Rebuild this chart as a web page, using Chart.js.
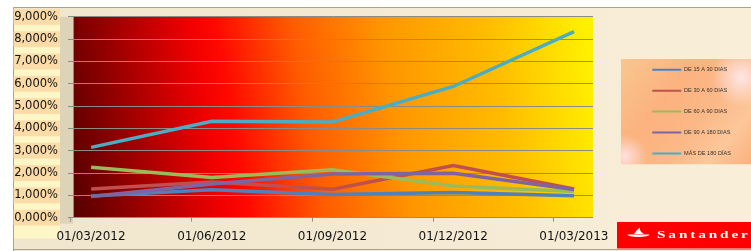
<!DOCTYPE html>
<html>
<head>
<meta charset="utf-8">
<script src="https://cdn.jsdelivr.net/npm/chart.js@4/dist/chart.umd.min.js"></script>
<style>
  html, body { margin: 0; padding: 0; background: #fff; }
  #wrap { width: 751px; height: 251px; }
</style>
</head>
<body>
<div id="wrap"><canvas id="mora" width="751" height="251"></canvas></div>
<script>
// fechas de corte (dd/mm/aaaa), también son las etiquetas del eje X
const fechas = ['01/03/2012', '01/06/2012', '01/09/2012', '01/12/2012', '01/03/2013'];

// tramos de mora, en %
const nombres = ['DE 15 A 30 DIAS', 'DE 30 A 60 DIAS', 'DE 60 A 90 DIAS', 'DE 90 A 180 DIAS', 'MÁS DE 180 DÍAS'];
const de15a30 = [0.97, 1.25, 1.04, 1.12, 0.98];
const de30a60 = [1.28, 1.60, 1.27, 2.33, 1.28];
const de60a90 = [2.26, 1.80, 2.14, 1.42, 1.17];
const de90a180 = [0.95, 1.51, 1.96, 1.99, 1.26];
const mas180 = [3.15, 4.32, 4.29, 5.88, 8.34];

const colores = ['#4f81bd', '#c0504d', '#9bbb59', '#8064a2', '#4bacc6'];
const yTicks = [0, 1, 2, 3, 4, 5, 6, 7, 8, 9];

// meses desde la primera fecha (eje de fechas)
function mesDe(f) {
    const p = f.split('/');
    return (parseInt(p[2]) - 2012) * 12 + parseInt(p[1]) - 3;
}
const meses = fechas.map(mesDe);

const valores = [de15a30, de30a60, de60a90, de90a180, mas180];
const datasets = valores.map((serie, i) => ({
    label: nombres[i],
    data: serie.map((v, j) => ({ x: meses[j], y: v })),
    borderColor: colores[i],
    backgroundColor: colores[i],
    borderWidth: 3.5,
    pointRadius: 0,
    tension: 0,
    order: valores.length - i
}));

// fondo del gráfico, área de trazado y caja de leyenda
const fondo = {
    id: 'fondo',
    beforeDraw(chart) {
        const ctx = chart.ctx;
        const W = chart.width, H = chart.height;
        const a = chart.chartArea;
        ctx.save();
        ctx.fillStyle = '#ffffff';
        ctx.fillRect(0, 0, W, H);

        let g = ctx.createLinearGradient(13, 0, W, 0);
        g.addColorStop(0, '#efe6cd');
        g.addColorStop(1, '#f9eed8');
        ctx.fillStyle = g;
        ctx.fillRect(13, 7, W - 13, H - 7);

        // columna de etiquetas y pared
        ctx.fillStyle = '#fdf7c8';
        ctx.fillRect(14, 9, a.left - 27, a.bottom + 12);
        ctx.fillStyle = '#ddd3b8';
        ctx.fillRect(a.left - 13, a.top, 13, a.bottom - a.top + 6);

        ctx.strokeStyle = '#aaa290';
        ctx.lineWidth = 1;
        ctx.beginPath();
        ctx.moveTo(13.5, H);
        ctx.lineTo(13.5, 7.5);
        ctx.lineTo(W, 7.5);
        ctx.moveTo(13.5, H - 1.5);
        ctx.lineTo(W, H - 1.5);
        ctx.stroke();

        // degradado rojo -> amarillo
        const cy = (a.top + a.bottom) / 2;
        g = ctx.createLinearGradient(a.left, cy + 45, a.right, cy - 45);
        g.addColorStop(0, '#5e0000');
        g.addColorStop(0.12, '#a00000');
        g.addColorStop(0.26, '#f00000');
        g.addColorStop(0.31, '#ff0800');
        g.addColorStop(0.45, '#ff5a00');
        g.addColorStop(0.62, '#ff9600');
        g.addColorStop(0.82, '#ffbd00');
        g.addColorStop(1, '#fff000');
        ctx.fillStyle = g;
        ctx.fillRect(a.left, a.top, a.right - a.left, a.bottom - a.top);

        // caja de leyenda
        const lg = chart.legend;
        if (lg && lg.legendHitBoxes && lg.legendHitBoxes.length) {
            const hb = lg.legendHitBoxes;
            const x0 = lg.left - 16;
            const y0 = hb[0].top - 8;
            const y1 = hb[hb.length - 1].top + hb[hb.length - 1].height + 8;
            g = ctx.createLinearGradient(x0, y0, W, y1);
            g.addColorStop(0, '#f9c690');
            g.addColorStop(0.35, '#fbb27e');
            g.addColorStop(0.6, '#fbb887');
            g.addColorStop(0.8, '#fcc79a');
            g.addColorStop(1, '#fbb07e');
            ctx.fillStyle = g;
            ctx.fillRect(x0, y0, W - x0, y1 - y0);
            const r = ctx.createRadialGradient(W - 10, y0 + 18, 0, W - 10, y0 + 18, 30);
            r.addColorStop(0, 'rgba(255,235,240,0.9)');
            r.addColorStop(1, 'rgba(255,235,240,0)');
            ctx.fillStyle = r;
            ctx.fillRect(x0, y0, W - x0, y1 - y0);
            const r2 = ctx.createRadialGradient(x0 + 4, y1 - 8, 0, x0 + 4, y1 - 8, 22);
            r2.addColorStop(0, 'rgba(255,230,235,0.9)');
            r2.addColorStop(1, 'rgba(255,230,235,0)');
            ctx.fillStyle = r2;
            ctx.fillRect(x0, y0, W - x0, y1 - y0);
        }
        ctx.restore();
    }
};

// logotipo
const logo = {
    id: 'logo',
    afterDraw(chart) {
        const ctx = chart.ctx;
        const W = chart.width, H = chart.height;
        const x0 = W - 134, y0 = H - 29;
        ctx.save();
        ctx.fillStyle = '#ff0000';
        ctx.fillRect(x0, y0, W - x0, 26.5);
        ctx.fillStyle = '#ffffff';
        // llama
        ctx.beginPath();
        ctx.ellipse(x0 + 21.5, y0 + 12.5, 11, 2.6, 0, 0, Math.PI);
        ctx.closePath();
        ctx.fill();
        ctx.beginPath();
        ctx.moveTo(x0 + 17, y0 + 12);
        ctx.quadraticCurveTo(x0 + 19, y0 + 8, x0 + 23, y0 + 5.5);
        ctx.quadraticCurveTo(x0 + 22, y0 + 9, x0 + 27, y0 + 12);
        ctx.closePath();
        ctx.fill();
        ctx.font = 'bold 10.5px "Liberation Serif"';
        ctx.textBaseline = 'middle';
        ctx.translate(x0 + 40, y0 + 13);
        ctx.scale(1.45, 1);
        ctx.letterSpacing = '2px';
        ctx.fillText('Santander', 0, 0);
        ctx.restore();
    }
};

const ctx1 = document.getElementById('mora').getContext('2d');
new Chart(ctx1, {
    type: 'line',
    data: { datasets: datasets },
    options: {
        responsive: false,
        animation: false,
        layout: { padding: { left: 13, top: 16, right: 10, bottom: 7 } },
        scales: {
            x: {
                type: 'linear',
                min: -0.45,
                max: 12.47,
                afterBuildTicks: (s) => { s.ticks = meses.map(m => ({ value: m - 0.5 })); },
                afterFit: (s) => { s.height = 26.4; },
                grid: { display: true, drawOnChartArea: false, drawTicks: true, tickLength: 4, color: '#8c8c8c' },
                border: { display: true, color: '#8c8c8c' },
                ticks: {
                    autoSkip: false,
                    maxRotation: 0,
                    labelOffset: 20,
                    padding: 8,
                    color: '#111',
                    font: { family: 'DejaVu Sans', size: 12 },
                    callback: (v, i) => fechas[i]
                }
            },
            y: {
                min: 0,
                max: 9,
                afterBuildTicks: (s) => { s.ticks = yTicks.map(v => ({ value: v })); },
                afterFit: (s) => { s.width = 60; },
                grid: { color: '#8e8a86', tickLength: 5 },
                border: { display: true, color: '#8c8c8c' },
                ticks: {
                    padding: 10,
                    color: '#111',
                    font: { family: 'DejaVu Sans', size: 11.5 },
                    showLabelBackdrop: true,
                    backdropColor: 'rgba(250,196,140,0.55)',
                    backdropPadding: { x: 2, y: 1 },
                    callback: (v) => v.toFixed(3).replace('.', ',') + '%'
                }
            },
            relleno: {
                position: 'right',
                display: true,
                grid: { display: false },
                border: { display: false },
                ticks: { display: false },
                afterFit: (s) => { s.width = 44; }
            }
        },
        plugins: {
            tooltip: { enabled: false },
            legend: {
                position: 'right',
                fullSize: false,
                align: 'start',
                title: { display: true, text: '', padding: 0, font: { size: 29 } },
                labels: {
                    usePointStyle: true,
                    pointStyle: 'line',
                    pointStyleWidth: 29,
                    padding: 15.3,
                    color: '#333',
                    font: { family: 'Liberation Sans', size: 5.6 },
                    sort: (a, b) => a.datasetIndex - b.datasetIndex,
                    generateLabels: (chart) => Chart.defaults.plugins.legend.labels.generateLabels(chart)
                        .map(l => Object.assign(l, { lineWidth: 2 }))
                }
            }
        }
    },
    plugins: [fondo, logo]
});
</script>
</body>
</html>
